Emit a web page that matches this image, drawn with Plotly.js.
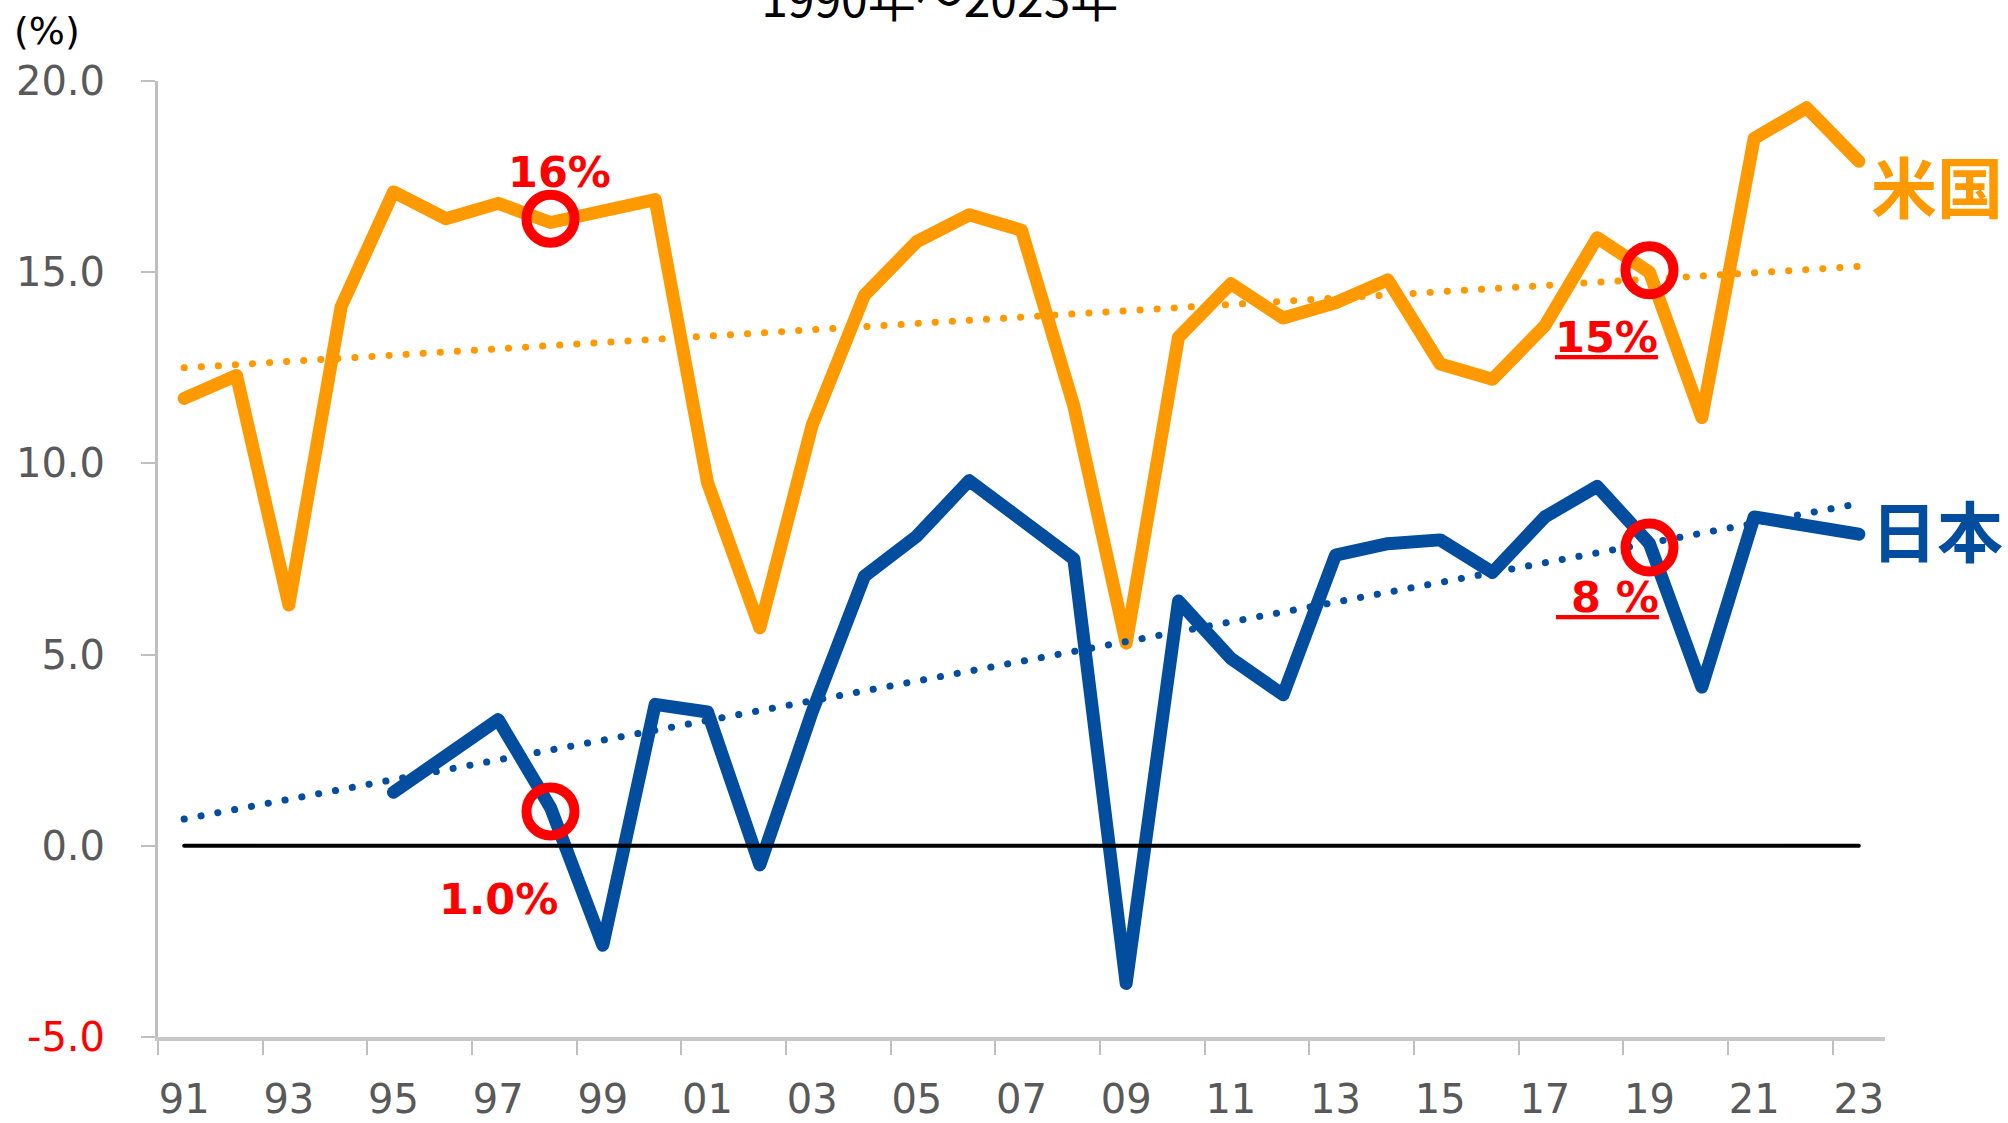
<!DOCTYPE html>
<html>
<head>
<meta charset="utf-8">
<script src="https://cdn.plot.ly/plotly-3.0.1.min.js"></script>
<style>
  html, body { margin: 0; padding: 0; background: #fff; }
  #chart { width: 2008px; height: 1123px; }
  .js-line { stroke-linecap: round; stroke-linejoin: round; }
</style>
</head>
<body>
<div id="chart"></div>
<script>
// ---- data ----
const years = [1991,1992,1993,1994,1995,1996,1997,1998,1999,2000,2001,2002,2003,2004,2005,2006,2007,2008,2009,2010,2011,2012,2013,2014,2015,2016,2017,2018,2019,2020,2021,2022,2023];
const usValues = [11.7,12.3,6.3,14.1,17.1,16.4,16.8,16.3,16.6,16.9,9.5,5.7,11.0,14.4,15.8,16.5,16.1,11.5,5.3,13.3,14.7,13.8,14.2,14.8,12.6,12.2,13.6,15.9,15.0,11.2,18.5,19.3,17.9];
const jpYears = [1995,1996,1997,1998,1999,2000,2001,2002,2003,2004,2005,2006,2007,2008,2009,2010,2011,2012,2013,2014,2015,2016,2017,2018,2019,2020,2021,2022,2023];
const jpValues = [1.4,2.3,3.3,1.0,-2.6,3.7,3.5,-0.5,3.5,7.05,8.1,9.55,8.55,7.5,-3.6,6.4,4.9,3.95,7.6,7.9,8.0,7.15,8.6,9.4,7.9,4.15,8.6,8.4,8.15];
const trendYears = [1991, 2023];
const usTrend = [12.5, 15.15];
const jpTrend = [0.7, 8.95];
const zeroLine = [0, 0];
const circleYears = [1998, 1998, 2019, 2019];
const circleValues = [16.4, 0.9, 15.05, 7.8];
const tickYears = [1991,1993,1995,1997,1999,2001,2003,2005,2007,2009,2011,2013,2015,2017,2019,2021,2023];
const tickLabels = ['91','93','95','97','99','01','03','05','07','09','11','13','15','17','19','21','23'];
const tickBounds = [1990.5,1992.5,1994.5,1996.5,1998.5,2000.5,2002.5,2004.5,2006.5,2008.5,2010.5,2012.5,2014.5,2016.5,2018.5,2020.5,2022.5];
const yTickVals = [-5, 0, 5, 10, 15, 20];
const yTickText = ['<span style="color:#FF0000">-5.0</span>', '0.0', '5.0', '10.0', '15.0', '20.0'];

const ORANGE = '#FF9900';
const BLUE = '#034D9E';
const RED = '#FF0000';

const traces = [
  {x: years, y: usValues, type: 'scatter', mode: 'lines', line: {color: ORANGE, width: 13}, hoverinfo: 'skip'},
  {x: jpYears, y: jpValues, type: 'scatter', mode: 'lines', line: {color: BLUE, width: 13}, hoverinfo: 'skip'},
  {x: trendYears, y: usTrend, type: 'scatter', mode: 'lines', line: {color: ORANGE, width: 7, dash: '0.1px,17px'}, hoverinfo: 'skip'},
  {x: trendYears, y: jpTrend, type: 'scatter', mode: 'lines', line: {color: BLUE, width: 7, dash: '0.1px,17px'}, hoverinfo: 'skip'},
  {x: trendYears, y: zeroLine, type: 'scatter', mode: 'lines', line: {color: '#000000', width: 4}, hoverinfo: 'skip'},
  {x: circleYears, y: circleValues, type: 'scatter', mode: 'markers',
   marker: {symbol: 'circle-open', size: 48, color: RED, line: {color: RED, width: 10}}, hoverinfo: 'skip'}
];

const redFont = {family: 'DejaVu Sans', size: 43, color: RED, weight: 'bold'};
const layout = {
  width: 2008, height: 1123,
  paper_bgcolor: '#ffffff', plot_bgcolor: '#ffffff',
  showlegend: false,
  margin: {l: 158, r: 123, t: 81, b: 86, pad: 0},
  title: {text: '1990年～2023年', font: {family: 'Noto Sans CJK JP', size: 48, color: '#000000'},
          xref: 'container', yref: 'container', x: 0.468, xanchor: 'center', y: 1, yanchor: 'middle'},
  xaxis: {
    range: [1990.5, 2023.5], showgrid: false, zeroline: false,
    showline: true, linecolor: '#C8C8C8', linewidth: 4,
    tickmode: 'array', tickvals: tickYears, ticktext: tickLabels, ticks: '',
    ticklabelstandoff: 24,
    tickfont: {family: 'DejaVu Sans', size: 40, color: '#595959'},
    minor: {tickmode: 'array', tickvals: tickBounds, ticks: 'outside', ticklen: 14, tickwidth: 2, tickcolor: '#BFBFBF', showgrid: false}
  },
  yaxis: {
    range: [-5, 20], showgrid: false, zeroline: false,
    showline: true, linecolor: '#BFBFBF', linewidth: 3,
    tickmode: 'array', tickvals: yTickVals, ticktext: yTickText,
    ticks: 'outside', ticklen: 14, tickwidth: 2, tickcolor: '#BFBFBF',
    ticklabelstandoff: 28,
    tickfont: {family: 'DejaVu Sans', size: 40, color: '#595959'}
  },
  annotations: [
    {text: '(%)', xref: 'paper', yref: 'paper', x: -0.0845, xanchor: 'left', y: 1.052, yanchor: 'middle', showarrow: false,
     font: {family: 'DejaVu Sans', size: 38, color: '#000000'}},
    {text: '米国', xref: 'paper', yref: 'y', x: 0.9905, xanchor: 'left', y: 17.3, yanchor: 'middle', showarrow: false,
     font: {family: 'Noto Sans CJK JP', size: 66, color: ORANGE, weight: 'bold'}},
    {text: '日本', xref: 'paper', yref: 'y', x: 0.9905, xanchor: 'left', y: 8.31, yanchor: 'middle', showarrow: false,
     font: {family: 'Noto Sans CJK JP', size: 66, color: BLUE, weight: 'bold'}},
    {text: '16%', xref: 'x', yref: 'y', x: 1998.18, y: 17.61, xanchor: 'center', yanchor: 'middle', showarrow: false, font: redFont},
    {text: '1.0%', xref: 'x', yref: 'y', x: 1997.01, y: -1.39, xanchor: 'center', yanchor: 'middle', showarrow: false, font: redFont},
    {text: '<u>15%</u>', xref: 'x', yref: 'y', x: 2018.18, y: 13.3, xanchor: 'center', yanchor: 'middle', showarrow: false, font: redFont},
    {text: '<u> 8 %</u>', xref: 'x', yref: 'y', x: 2018.2, y: 6.5, xanchor: 'center', yanchor: 'middle', showarrow: false, font: redFont}
  ]
};

Plotly.newPlot('chart', traces, layout, {staticPlot: true, displayModeBar: false});
</script>
</body>
</html>
